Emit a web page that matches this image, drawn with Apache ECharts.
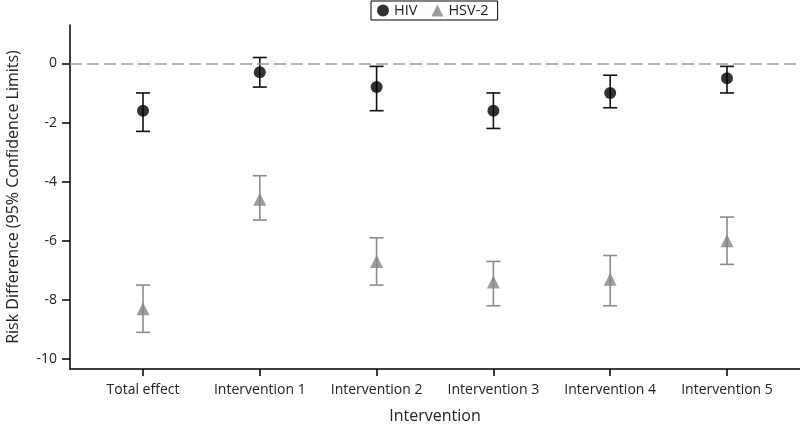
<!DOCTYPE html>
<html>
<head>
<meta charset="utf-8">
<script src="https://cdn.jsdelivr.net/npm/echarts@6/dist/echarts.min.js"></script>
<style>
  html, body { margin: 0; padding: 0; background: #fff; }
  #box { width: 800px; height: 426px; }
</style>
</head>
<body>
<div id="box"></div>
<script>
const categories = ["Total effect", "Intervention 1", "Intervention 2", "Intervention 3", "Intervention 4", "Intervention 5"];
const hivEst = [-1.6, -0.3, -0.8, -1.6, -1.0, -0.5];
const hivLow = [-2.3, -0.8, -1.6, -2.2, -1.5, -1.0];
const hivHigh = [-1.0, 0.2, -0.1, -1.0, -0.4, -0.1];
const hsvEst = [-8.3, -4.6, -6.7, -7.4, -7.3, -6.0];
const hsvLow = [-9.1, -5.3, -7.5, -8.2, -8.2, -6.8];
const hsvHigh = [-7.5, -3.8, -5.9, -6.7, -6.5, -5.2];
const yTicks = [-10, -8, -6, -4, -2, 0];

const font = "Open Sans";
const textColor = "#222";

function bars(low, high) {
  return low.map((v, i) => [i, v, high[i]]);
}
function points(est) {
  return est.map((v, i) => [i, v]);
}
// vertical whisker with caps, coords come from the axes
function errorBar(color) {
  return function (params, api) {
    const x = api.value(0);
    const top = api.coord([x, api.value(2)]);
    const bot = api.coord([x, api.value(1)]);
    const cap = 7;
    const style = { stroke: color, lineWidth: 1.6 };
    return {
      type: "group",
      children: [
        { type: "line", shape: { x1: top[0], y1: top[1], x2: bot[0], y2: bot[1] }, style: style },
        { type: "line", shape: { x1: top[0] - cap, y1: top[1], x2: top[0] + cap, y2: top[1] }, style: style },
        { type: "line", shape: { x1: bot[0] - cap, y1: bot[1], x2: bot[0] + cap, y2: bot[1] }, style: style }
      ]
    };
  };
}

const myChart = echarts.init(document.getElementById("box"));
const option = {
  animation: false,
  textStyle: { fontFamily: font, color: textColor },
  grid: { left: 70, right: 0, top: 25, bottom: 57, outerBoundsMode: "none" },
  legend: {
    left: 371,
    top: 1,
    padding: [2, 9, 2, 6],
    borderColor: "#000",
    borderWidth: 1,
    itemWidth: 12,
    itemHeight: 12,
    itemGap: 14,
    textStyle: { fontSize: 14.5, fontFamily: font, color: textColor },
    data: ["HIV", "HSV-2"]
  },
  xAxis: {
    type: "value",
    min: -0.625,
    max: 5.625,
    name: "Intervention",
    nameLocation: "middle",
    nameGap: 39,
    nameTextStyle: { fontSize: 16, fontFamily: font, color: textColor },
    axisLine: { onZero: false, lineStyle: { color: "#000", width: 1.5 } },
    axisTick: { length: 7, customValues: [0, 1, 2, 3, 4, 5], lineStyle: { color: "#000", width: 1.5 } },
    axisLabel: {
      customValues: [0, 1, 2, 3, 4, 5],
      margin: 14,
      fontSize: 14,
      color: textColor,
      formatter: v => categories[Math.round(v)]
    },
    splitLine: { show: false }
  },
  yAxis: {
    type: "value",
    min: -10.34,
    max: 1.3,
    name: "Risk Difference (95% Confidence Limits)",
    nameLocation: "middle",
    nameGap: 49,
    nameTextStyle: { fontSize: 16, fontFamily: font, color: textColor },
    axisLine: { show: true, onZero: false, lineStyle: { color: "#000", width: 1.5 } },
    axisTick: { show: true, length: 8, customValues: yTicks, lineStyle: { color: "#000", width: 1.5 } },
    axisLabel: { customValues: yTicks, margin: 13, fontSize: 14, color: textColor },
    splitLine: { show: false }
  },
  series: [
    {
      name: "HIV-bars",
      type: "custom",
      renderItem: errorBar("#111"),
      data: bars(hivLow, hivHigh),
      z: 2
    },
    {
      name: "HSV-2-bars",
      type: "custom",
      renderItem: errorBar("#8c8c8c"),
      data: bars(hsvLow, hsvHigh),
      z: 2
    },
    {
      name: "HIV",
      type: "scatter",
      symbol: "circle",
      symbolSize: 12,
      itemStyle: { color: "#000" },
      data: points(hivEst),
      z: 3,
      markLine: {
        silent: true,
        symbol: "none",
        label: { show: false },
        lineStyle: { color: "#9a9a9a", width: 1.6, type: [12, 5] },
        data: [{ yAxis: 0 }]
      }
    },
    {
      name: "HSV-2",
      type: "scatter",
      symbol: "triangle",
      symbolSize: 13,
      itemStyle: { color: "#858585" },
      data: points(hsvEst),
      z: 3
    }
  ]
};
myChart.setOption(option);
</script>
</body>
</html>
